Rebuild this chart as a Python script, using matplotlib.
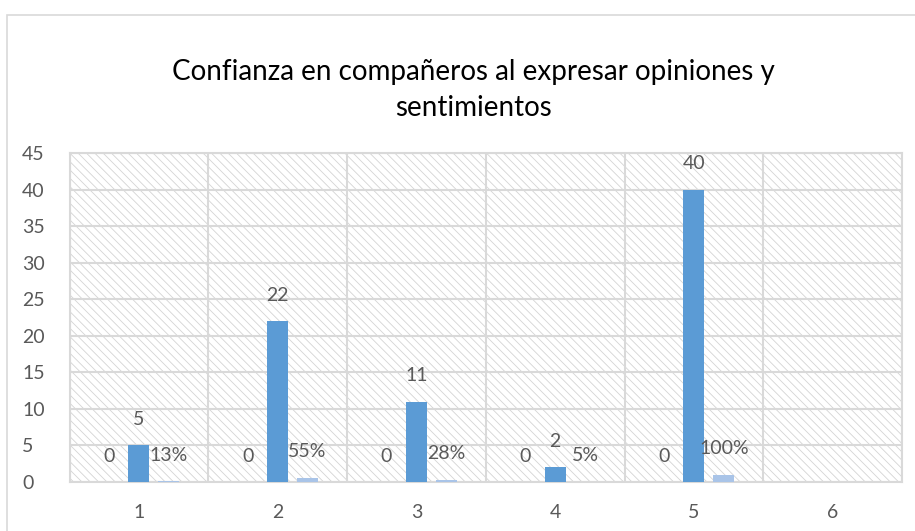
import numpy as np
import matplotlib.pyplot as plt
from matplotlib.patches import Rectangle

plt.rcParams['font.family'] = ['Lato', 'DejaVu Sans']
plt.rcParams['hatch.linewidth'] = 0.6
plt.rcParams['hatch.color'] = '#d4d4d4'

categories = [1, 2, 3, 4, 5, 6]
zeros = [0, 0, 0, 0, 0, None]
counts = [5, 22, 11, 2, 40, None]
shares = [0.13, 0.55, 0.28, 0.05, 1.00, None]
share_labels = ["13%", "55%", "28%", "5%", "100%", ""]

text_col = '#595959'
blue = '#5B9BD5'
light = '#A9C4E8'

fig = plt.figure(figsize=(9.15, 5.31), dpi=100)
ax = fig.add_axes([69.5 / 915, 1 - 482 / 531, (902 - 69.5) / 915, (482 - 153.3) / 531])

# outer chart frame
fig.patches.append(Rectangle((7 / 915, -0.05), 1.0, 1 - 15 / 531 + 0.05, transform=fig.transFigure,
                             fill=False, edgecolor='#d9d9d9', linewidth=1.2))

# hatched plot background
ax.add_patch(Rectangle((0, 0), 1, 1, transform=ax.transAxes, facecolor='white',
                       hatch='\\\\\\\\', edgecolor='#d4d4d4', linewidth=0, zorder=0))

w = 0.15
off = 0.216
for i, c in enumerate(categories):
    if counts[i] is None:
        continue
    ax.bar(c - off, zeros[i], w, color='#4472C4', zorder=3)
    ax.bar(c, counts[i], w, color=blue, zorder=3)
    ax.bar(c + off, shares[i], w, color=light, zorder=3)
    ax.annotate(str(zeros[i]), (c - off, zeros[i]), xytext=(0, 26), textcoords='offset pixels',
                ha='center', va='center', fontsize=14, color=text_col, zorder=4)
    ax.annotate(str(counts[i]), (c, counts[i]), xytext=(0, 26), textcoords='offset pixels',
                ha='center', va='center', fontsize=14, color=text_col, zorder=4)
    ax.annotate(share_labels[i], (c + off, shares[i]), xytext=(0, 26), textcoords='offset pixels',
                ha='center', va='center', fontsize=14, color=text_col, zorder=4)

ax.set_xlim(0.5, 6.5)
ax.set_ylim(0, 45)
ax.set_yticks(range(0, 50, 5))
ax.set_xticks(categories)
ax.set_xticks(np.arange(0.5, 7, 1), minor=True)
ax.grid(axis='y', color='#d9d9d9', linewidth=1.5, zorder=1)
ax.grid(axis='x', which='minor', color='#d9d9d9', linewidth=1.5, zorder=1)
ax.tick_params(axis='both', which='both', length=0, labelsize=14, labelcolor=text_col)
ax.tick_params(axis='x', pad=16)
ax.tick_params(axis='y', pad=34)
for lab in ax.get_yticklabels():
    lab.set_horizontalalignment('left')
for s in ax.spines.values():
    s.set_color('#d9d9d9')
    s.set_linewidth(1.5)
ax.set_axisbelow(True)

fig.text(473 / 915, 1 - 90 / 531, "Confianza en compañeros al expresar opiniones y\nsentimientos",
         ha='center', va='center', fontsize=20, color='black', linespacing=1.5)

fig.savefig('out.png', dpi=100)
